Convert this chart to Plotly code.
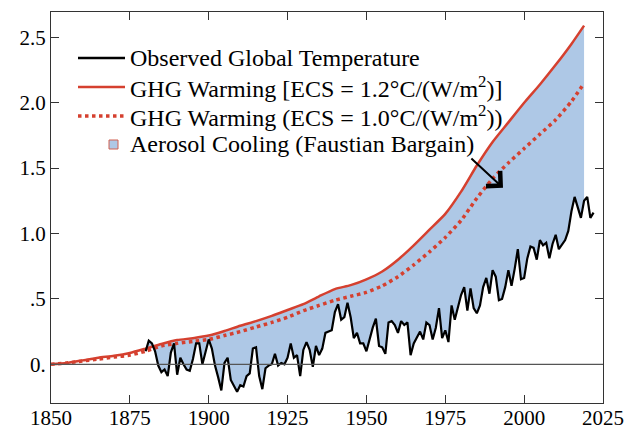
import plotly.graph_objects as go

# ---------------- data ----------------
ghg_years = [1850, 1855, 1860, 1865, 1870, 1875, 1880, 1885, 1890, 1895,
             1900, 1905, 1910, 1915, 1920, 1925, 1930, 1935, 1940, 1945,
             1950, 1955, 1960, 1965, 1970, 1975, 1980, 1985, 1990, 1995,
             2000, 2005, 2010, 2015, 2019]
ghg_ecs12 = [0.00, 0.01, 0.03, 0.05, 0.065, 0.087, 0.12, 0.155, 0.185, 0.20,
             0.22, 0.255, 0.295, 0.33, 0.37, 0.415, 0.46, 0.52, 0.575, 0.605,
             0.65, 0.71, 0.80, 0.91, 1.03, 1.15, 1.32, 1.52, 1.70, 1.85,
             2.00, 2.14, 2.29, 2.45, 2.59]
ghg_ecs10 = [0.00, 0.01, 0.025, 0.04, 0.055, 0.07, 0.10, 0.14, 0.16, 0.175,
             0.19, 0.22, 0.25, 0.285, 0.32, 0.36, 0.41, 0.45, 0.49, 0.52,
             0.55, 0.60, 0.67, 0.76, 0.86, 0.97, 1.10, 1.27, 1.42, 1.54,
             1.65, 1.76, 1.87, 2.01, 2.15]

obs_years = list(range(1880, 2023))
obs_temp = [
    0.10, 0.18, 0.16, 0.10, -0.01, -0.06, -0.04, -0.09, 0.09, 0.16,   # 1880s
    -0.08, 0.05, 0.00, -0.04, -0.05, 0.04, 0.16, 0.16, 0.00, 0.10,    # 1890s
    0.19, 0.12, -0.01, -0.10, -0.20, 0.01, 0.05, -0.12, -0.16, -0.21, # 1900s
    -0.16, -0.17, -0.09, -0.07, 0.12, 0.13, -0.09, -0.19, -0.03, -0.01, # 1910s
    0.00, 0.08, -0.01, 0.01, 0.00, 0.05, 0.16, 0.05, 0.07, -0.09,     # 1920s
    0.11, 0.17, 0.11, -0.02, 0.14, 0.07, 0.12, 0.24, 0.25, 0.26,      # 1930s
    0.40, 0.46, 0.34, 0.36, 0.47, 0.36, 0.20, 0.24, 0.16, 0.16,       # 1940s
    0.10, 0.20, 0.28, 0.35, 0.14, 0.13, 0.08, 0.32, 0.33, 0.30,       # 1950s
    0.24, 0.33, 0.30, 0.32, 0.07, 0.16, 0.21, 0.25, 0.19, 0.32,       # 1960s
    0.30, 0.19, 0.28, 0.43, 0.20, 0.26, 0.17, 0.45, 0.34, 0.43,       # 1970s
    0.53, 0.59, 0.41, 0.58, 0.43, 0.39, 0.45, 0.59, 0.66, 0.54,       # 1980s
    0.72, 0.67, 0.49, 0.50, 0.59, 0.72, 0.60, 0.73, 0.88, 0.65,       # 1990s
    0.66, 0.81, 0.90, 0.89, 0.80, 0.95, 0.91, 0.93, 0.81, 0.92,       # 2000s
    0.99, 0.88, 0.92, 0.95, 1.02, 1.17, 1.28, 1.19, 1.12, 1.25,       # 2010s
    1.28, 1.12, 1.16,                                                 # 2020s
]

fill_start, fill_end = 1880, 2019

x_ticks = [1850, 1875, 1900, 1925, 1950, 1975, 2000, 2025]
x_ticktext = ["1850", "1875", "1900", "1925", "1950", "1975", "2000", "2025"]
y_ticks = [0, 0.5, 1.0, 1.5, 2.0, 2.5]
y_ticktext = ["0.", ".5", "1.0", "1.5", "2.0", "2.5"]

legend_labels = [
    "Observed Global Temperature",
    "GHG Warming [ECS = 1.2°C/(W/m<sup>2</sup>)]",
    "GHG Warming (ECS = 1.0°C/(W/m<sup>2</sup>))",
    "Aerosol Cooling (Faustian Bargain)",
]

# ---------------- styling ----------------
RED = "#d5402f"
FILL = "#aec8e6"
FONT = "Liberation Serif, Times New Roman, Times, serif"
W, H = 636, 429
OFF = 8  # page body margin of the html page
# plot area in window pixels: x 51..603, y 12..403
PX0, PX1, PY0, PY1 = 51, 603, 12, 403
ML, MT = PX0 - OFF, PY0 - OFF
MR, MB = W - (PX1 - OFF), H - (PY1 - OFF)

def px_x(p):
    return (p - PX0) / (PX1 - PX0)

def px_y(p):
    return (PY1 - p) / (PY1 - PY0)

# subsets for the shaded band
obs_fill_x = [y for y in obs_years if fill_start <= y <= fill_end]
obs_fill_y = [v for y, v in zip(obs_years, obs_temp) if fill_start <= y <= fill_end]
ghg_fill_x = [y for y in ghg_years if fill_start <= y <= fill_end]
ghg_fill_y = [v for y, v in zip(ghg_years, ghg_ecs12) if fill_start <= y <= fill_end]

fig = go.Figure()

fig.add_trace(go.Scatter(x=obs_fill_x, y=obs_fill_y, mode="lines",
                         line=dict(width=0, color=FILL), showlegend=False,
                         hoverinfo="skip"))
fig.add_trace(go.Scatter(x=ghg_fill_x, y=ghg_fill_y, mode="lines",
                         line=dict(width=0, color=FILL, shape="spline", smoothing=0.6),
                         fill="tonexty", fillcolor=FILL, showlegend=False,
                         hoverinfo="skip"))
fig.add_trace(go.Scatter(x=ghg_years, y=ghg_ecs10, mode="lines",
                         line=dict(color=RED, width=3.5, dash="dot",
                                   shape="spline", smoothing=0.6),
                         showlegend=False))
fig.add_trace(go.Scatter(x=ghg_years, y=ghg_ecs12, mode="lines",
                         line=dict(color=RED, width=2.5, shape="spline", smoothing=0.6),
                         showlegend=False))
fig.add_trace(go.Scatter(x=obs_years, y=obs_temp, mode="lines",
                         line=dict(color="black", width=2.2),
                         showlegend=False))

shapes = [
    # zero reference line
    dict(type="line", xref="paper", yref="y", x0=0, x1=1, y0=0, y1=0,
         line=dict(color="#555555", width=1.2), layer="above"),
]
annotations = []

# manual legend
rows_py = [58, 87, 116, 144]
line_styles = [dict(color="black", width=2.5),
               dict(color=RED, width=2.5),
               dict(color=RED, width=3.5, dash="dot")]
for i, st in enumerate(line_styles):
    yy = px_y(rows_py[i])
    shapes.append(dict(type="line", xref="paper", yref="paper",
                       x0=px_x(78), x1=px_x(125), y0=yy, y1=yy, line=st))
shapes.append(dict(type="rect", xref="paper", yref="paper",
                   x0=px_x(109), x1=px_x(118), y0=px_y(149), y1=px_y(140),
                   fillcolor=FILL, line=dict(color="#d06050", width=1)))
for i, lab in enumerate(legend_labels):
    annotations.append(dict(text=lab, xref="paper", yref="paper",
                            x=px_x(128), y=px_y(rows_py[i]),
                            xanchor="left", yanchor="middle", showarrow=False,
                            font=dict(family=FONT, size=24, color="black")))

# arrow from legend to shaded region
annotations.append(dict(text="", x=1993.3, y=1.35, ax=1982.8, ay=1.585,
                        xref="x", yref="y", axref="x", ayref="y",
                        showarrow=True, arrowhead=4, arrowsize=2,
                        arrowwidth=2, arrowcolor="black", standoff=0))

axis_common = dict(showline=True, linecolor="#333333", linewidth=1.3,
                   mirror="ticks", ticks="inside", ticklen=8, tickwidth=1.3,
                   tickcolor="#333333", showgrid=False, zeroline=False,
                   automargin=False,
                   tickfont=dict(family=FONT, size=21, color="black"))

fig.update_layout(
    width=W, height=H,
    margin=dict(l=ML, r=MR, t=MT, b=MB, autoexpand=False),
    paper_bgcolor="white", plot_bgcolor="white",
    font=dict(family=FONT),
    xaxis=dict(range=[1850, 2025], tickvals=x_ticks, ticktext=x_ticktext,
               ticklabelstandoff=-4, **axis_common),
    yaxis=dict(range=[-0.296, 2.694], tickvals=y_ticks, ticktext=y_ticktext,
               **axis_common),
    shapes=shapes, annotations=annotations, showlegend=False,
)

fig.write_html("out.html")
